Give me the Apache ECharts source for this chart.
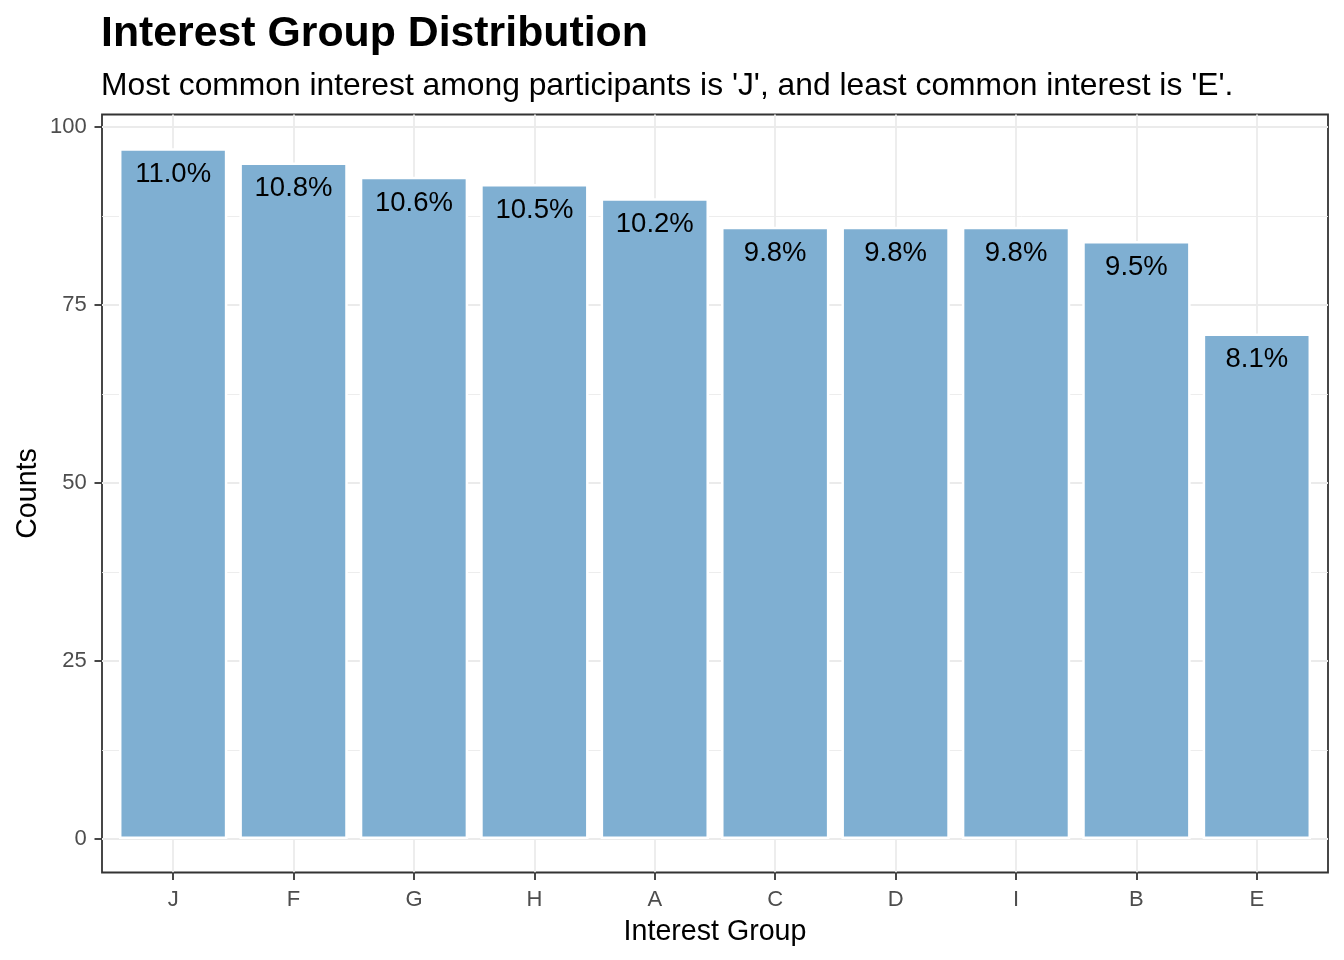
<!DOCTYPE html>
<html>
<head>
<meta charset="utf-8">
<script src="https://cdn.jsdelivr.net/npm/echarts@6/dist/echarts.min.js"></script>
<style>html,body{margin:0;padding:0;background:#fff;}#chart{width:1344px;height:960px;}</style>
</head>
<body>
<div id="chart"></div>
<script>
// ---- data ----
const categories = ['J', 'F', 'G', 'H', 'A', 'C', 'D', 'I', 'B', 'E'];
const counts = [97, 95, 93, 92, 90, 86, 86, 86, 84, 71];
const pctLabels = ['11.0%', '10.8%', '10.6%', '10.5%', '10.2%', '9.8%', '9.8%', '9.8%', '9.5%', '8.1%'];
const yTickValues = [0, 25, 50, 75, 100];
const titleText = 'Interest Group Distribution';
const subtitleText = "Most common interest among participants is 'J', and least common interest is 'E'.";
const xTitle = 'Interest Group';
const yTitle = 'Counts';

// ---- layout ----
const W = 1344, H = 960;
const P = { left: 102, right: 1328, top: 114.5, bottom: 872.5 };
const Y0 = 839, Y100 = 127;
const unit = (Y0 - Y100) / 100;
const band = (P.right - P.left) / (categories.length + 1.2);
const barLeft = P.left + 0.1 * band, barRight = P.right - 0.1 * band;
const yMinBar = -(P.bottom - Y0) / unit, yMaxBar = (Y0 - P.top) / unit;
const FONT = '"Liberation Sans", Arial, sans-serif';

const chart = echarts.init(document.getElementById('chart'), null, { renderer: 'canvas' });
chart.setOption({
  animation: false,
  backgroundColor: '#ffffff',
  title: [
    { text: titleText, left: 101, top: 13, padding: 0,
      textStyle: { fontFamily: FONT, fontSize: 42.8, fontWeight: 'bold', color: '#000', lineHeight: 42.8 } },
    { text: subtitleText, left: 101, top: 70, padding: 0,
      textStyle: { fontFamily: FONT, fontSize: 31.8, fontWeight: 'normal', color: '#000', lineHeight: 31.8 } }
  ],
  grid: [
    { left: P.left, right: W - P.right, top: P.top, bottom: H - P.bottom, show: true,
      borderColor: '#333333', borderWidth: 1.8, backgroundColor: 'transparent', containLabel: false },
    { left: P.left, right: W - P.right, top: Y100, bottom: H - Y0, show: false },
    { left: barLeft, right: W - barRight, top: P.top, bottom: H - P.bottom, show: false }
  ],
  xAxis: [
    { gridIndex: 0, type: 'value', min: 0, max: 1, show: false },
    { gridIndex: 1, type: 'value', min: 0, max: 1, show: false },
    { gridIndex: 2, type: 'category', data: categories, position: 'bottom', z: 5,
      axisLine: { show: false, onZero: false },
      axisTick: { show: true, alignWithLabel: true, length: 7.5, lineStyle: { color: '#333333', width: 1.8 } },
      axisLabel: { show: true, margin: 16, fontFamily: FONT, fontSize: 22, lineHeight: 22, color: '#4d4d4d' },
      splitLine: { show: false },
      name: xTitle, nameLocation: 'middle', nameGap: 45,
      nameTextStyle: { fontFamily: FONT, fontSize: 28.6, lineHeight: 28.6, color: '#000' } },
    { gridIndex: 2, type: 'category', data: categories, position: 'bottom', z: 0,
      axisLine: { show: false, onZero: false },
      axisTick: { show: true, inside: true, alignWithLabel: true, length: P.bottom - P.top,
        lineStyle: { color: '#ebebeb', width: 1.8 } },
      axisLabel: { show: false }, splitLine: { show: false } }
  ],
  yAxis: [
    { gridIndex: 0, type: 'value', min: 0, max: 1, position: 'left',
      axisLine: { show: false }, axisTick: { show: false }, axisLabel: { show: false }, splitLine: { show: false },
      name: yTitle, nameLocation: 'middle', nameRotate: 90, nameGap: 60,
      nameTextStyle: { fontFamily: FONT, fontSize: 28.6, lineHeight: 28.6, color: '#000' } },
    { gridIndex: 1, type: 'value', min: 0, max: 100, interval: 25, position: 'left',
      axisLine: { show: false },
      axisTick: { show: true, length: 7.5, lineStyle: { color: '#333333', width: 1.8 } },
      axisLabel: { show: true, margin: 15.3, fontFamily: FONT, fontSize: 22, color: '#4d4d4d',
        formatter: v => (yTickValues.indexOf(v) >= 0 ? String(v) : '') },
      splitLine: { show: true, lineStyle: { color: '#ebebeb', width: 1.8 } } },
    { gridIndex: 1, type: 'value', min: 0, max: 100, interval: 12.5, position: 'left',
      axisLine: { show: false }, axisTick: { show: false }, axisLabel: { show: false },
      splitLine: { show: true, lineStyle: { color: '#ebebeb', width: 0.9 } } },
    { gridIndex: 2, type: 'value', min: yMinBar, max: yMaxBar, show: false, splitLine: { show: false } }
  ],
  series: [
    {
      type: 'bar', xAxisIndex: 2, yAxisIndex: 3, z: 3,
      data: counts,
      barWidth: '90%',
      itemStyle: { color: '#7fafd2', borderColor: '#ffffff', borderWidth: 2.5 },
      label: { show: true, position: 'insideTop', distance: 12.5,
        formatter: p => pctLabels[p.dataIndex],
        fontFamily: FONT, fontSize: 27.5, lineHeight: 27.5, color: '#000000' }
    }
  ]
});
</script>
</body>
</html>
